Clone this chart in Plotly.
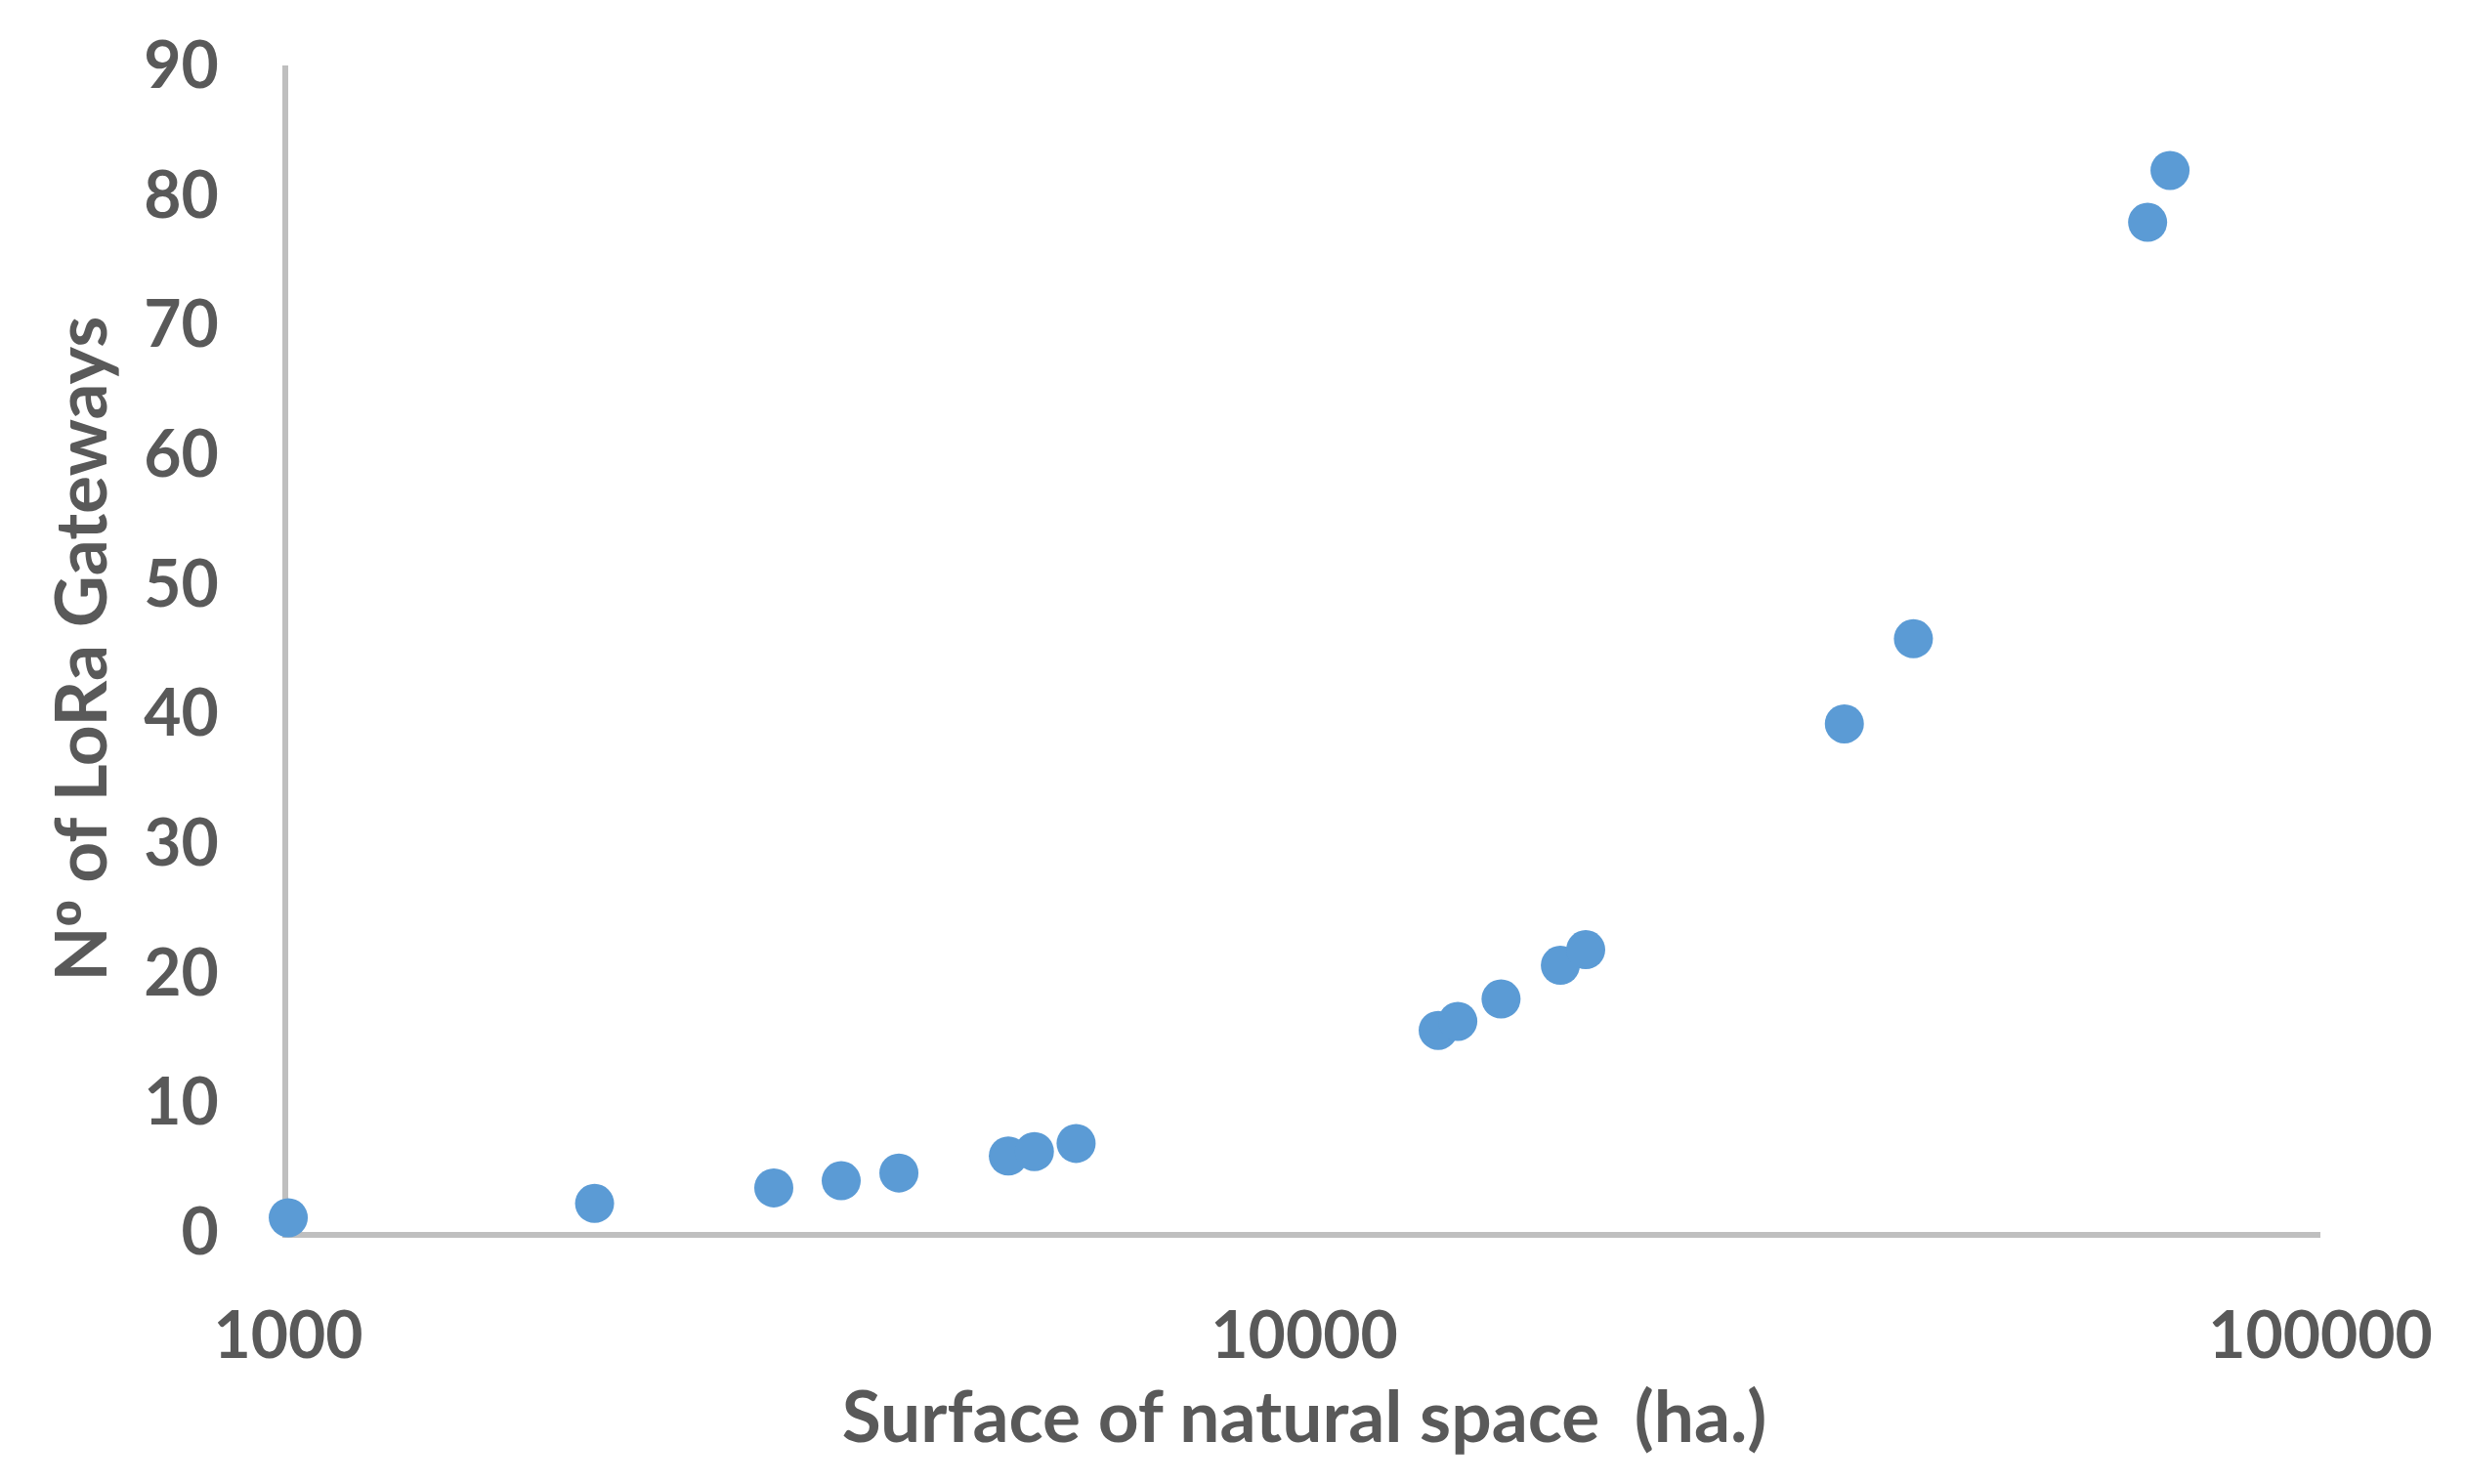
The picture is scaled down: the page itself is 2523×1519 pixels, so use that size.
import plotly.graph_objects as go

# Surface of natural space (ha.) vs number of LoRa gateways
surface_ha = [1000, 2002, 3005, 3501, 3990, 5113, 5424, 5962,
              13544, 14159, 15617, 17864, 18920, 34000, 39760, 67600, 71120]
gateways = [1.1, 2.2, 3.4, 3.95, 4.55, 5.86, 6.2, 6.83,
            15.55, 16.25, 17.97, 20.57, 21.78, 39.2, 45.77, 77.9, 81.9]

x_tickvals = [1000, 10000, 100000]
x_ticktext = ["1000", "10000", "100000"]
y_tickvals = [0, 10, 20, 30, 40, 50, 60, 70, 80, 90]

text_color = "#595959"
axis_color = "#BFBFBF"
font_family = "Lato, 'Open Sans', sans-serif"

fig = go.Figure()

fig.add_trace(go.Scatter(
    x=surface_ha, y=gateways,
    mode="markers",
    marker=dict(color="#5B9BD5", size=40, line=dict(width=0)),
    cliponaxis=False,
    showlegend=False
))

# page body has an 8px margin, so the figure is a bit smaller than the window
fig.update_layout(
    width=2507, height=1503,
    paper_bgcolor="white",
    plot_bgcolor="white",
    margin=dict(l=287, r=140, t=59, b=250),
    font=dict(family=font_family, color=text_color, size=66, weight="bold"),
)

fig.update_xaxes(
    type="log",
    range=[2.99995, 5],
    tickvals=x_tickvals,
    ticktext=x_ticktext,
    showgrid=False,
    zeroline=False,
    showline=True,
    linecolor=axis_color,
    linewidth=6,
    ticks="",
    ticklabelstandoff=44,
    layer="below traces",
    tickfont=dict(size=66, color=text_color, family=font_family, weight="bold"),
    title=dict(text="Surface of natural space  (ha.)", standoff=8,
               font=dict(size=73, color=text_color, family=font_family, weight="bold")),
)

# ordinal sign taken from Liberation Sans, which draws it underlined like the original
y_title = "N<span style='font-family:Liberation Sans'>º</span> of LoRa Gateways"

fig.update_yaxes(
    range=[0, 90],
    tickvals=y_tickvals,
    showgrid=False,
    zeroline=False,
    showline=True,
    linecolor=axis_color,
    linewidth=6,
    ticks="",
    ticklabelstandoff=52,
    layer="below traces",
    tickfont=dict(size=66, color=text_color, family=font_family, weight="bold"),
    title=dict(text=y_title, standoff=16,
               font=dict(size=73, color=text_color, family=font_family, weight="bold")),
)

fig.write_html("out.html")
